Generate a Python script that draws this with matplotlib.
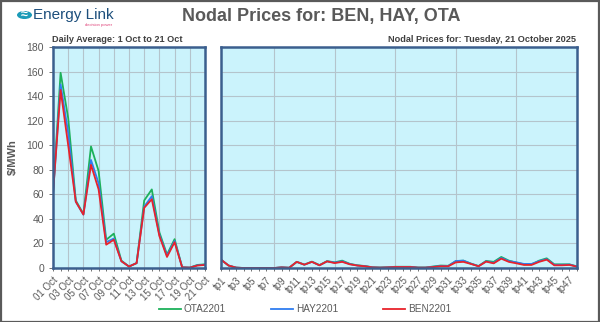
import matplotlib
matplotlib.use("Agg")
import matplotlib.pyplot as plt
from matplotlib.patches import Rectangle, Circle
import numpy as np

plt.rcParams['font.family'] = ['Liberation Sans', 'DejaVu Sans']

# daily averages 1 Oct .. 21 Oct
days = ["%02d Oct" % d for d in range(1, 22)]
ota_daily = [60, 159, 122, 55, 44, 99, 79, 23, 28, 6, 1.2, 4, 55, 64, 29, 11, 23.5, 0.5, 0.3, 2.5, 3]
hay_daily = [60, 149.5, 110, 54, 43.5, 88, 69, 21, 24, 5.5, 1.2, 4, 50, 58.5, 27, 10, 22, 0.5, 0.3, 2.2, 2.7]
ben_daily = [60.6, 145, 100, 54, 43.5, 84, 64, 19, 23, 5.5, 1.2, 4, 49, 56, 26, 9, 21, 0.5, 0.3, 2, 2.5]

# trading periods for 21 Oct
tps = ["tp%d" % i for i in range(1, 49)]
ota_tp = [6.8, 2, 0.3, 0, 0, 0, 0, 0, 0.5, 0.2, 5, 2.8, 5.2, 2.4, 5.6, 4.6, 6, 3.4, 2.2, 1.6,
          0.6, 0.4, 0.6, 1, 1, 1, 0.4, 0.4, 1.2, 2, 1.8, 5.6, 6, 3.6, 1.6, 5.8, 5, 9, 6, 4.4,
          3, 3, 6, 7.9, 3, 3, 3, 1.3]
hay_tp = [6.8, 2, 0.3, 0, 0, 0, 0, 0, 0.5, 0.2, 5, 2.7, 5, 2.2, 5.4, 4.4, 5.4, 3.2, 2, 1.5,
          0.5, 0.3, 0.5, 0.9, 0.9, 0.9, 0.3, 0.3, 1, 1.6, 1.6, 5.7, 6, 3.5, 1.5, 5.4, 4.2, 8.2, 5.6, 4.6,
          3.3, 3.3, 5.6, 7.2, 2.6, 2.6, 2.8, 1.2]
ben_tp = [6.8, 2, 0.3, 0, 0, 0, 0, 0, 0.5, 0.2, 5, 2.7, 5, 2.2, 5.4, 4, 5, 3, 2, 1.4,
          0.5, 0.3, 0.5, 0.8, 0.8, 0.8, 0.3, 0.3, 0.8, 1.4, 1.4, 4.6, 5, 3.3, 1.4, 5.2, 3.8, 7.6, 5, 3.8,
          2.5, 2.5, 5, 6.8, 2.2, 2.2, 2.5, 1.1]

names = ["OTA2201", "HAY2201", "BEN2201"]
colors = ["#1DB15A", "#2F7DF0", "#E8232B"]

W, H = 600, 322
fig = plt.figure(figsize=(6, 3.22), dpi=100)
fig.patch.set_facecolor("white")
fig.patches.append(Rectangle((0.5 / W, 0.5 / H), 1 - 1.5 / W, 1 - 1.5 / H, transform=fig.transFigure,
                             fill=False, edgecolor="#5a5a5a", linewidth=1.6))

bottom = 1 - 268 / H
height = 221 / H
ax1 = fig.add_axes([53 / W, bottom, 152 / W, height])
ax2 = fig.add_axes([221 / W, bottom, 356 / W, height])

grey = "#595959"
for ax in (ax1, ax2):
    ax.set_facecolor("#CBF3FC")
    ax.set_ylim(0, 180)
    ax.set_yticks(np.arange(0, 181, 20))
    ax.grid(True, axis="y", color="#b4c4cc", linewidth=0.8)
    for s in ax.spines.values():
        s.set_color("#3B5F8E")
        s.set_linewidth(1.8)
    ax.tick_params(axis="y", colors=grey, labelsize=7.5, length=3, width=0.6)
    ax.tick_params(axis="x", colors=grey, labelsize=7, length=2.5, width=0.6, pad=2.5)

x1 = np.arange(len(days))
for vals, c in zip([ota_daily, hay_daily, ben_daily], colors):
    ax1.plot(x1, vals, color=c, linewidth=1.3)
ax1.set_xlim(0, len(days) - 1)
ax1.set_xticks(x1, minor=True)
ax1.set_xticks(x1[::2])
ax1.set_xticklabels(days[::2], rotation=45, ha="right", rotation_mode="anchor")
ax1.grid(True, axis="x", color="#b4c4cc", linewidth=0.8)
ax1.tick_params(axis="x", which="minor", length=2.5, colors=grey)
ax1.set_ylabel("$/MWh", color=grey, fontsize=8, fontweight="bold", labelpad=6)

x2 = np.arange(len(tps))
lines = []
for vals, c, n in zip([ota_tp, hay_tp, ben_tp], colors, names):
    ln, = ax2.plot(x2, vals, color=c, linewidth=1.3, label=n)
    lines.append(ln)
ax2.set_xlim(0, len(tps) - 1)
ax2.set_xticks(x2[::2])
ax2.set_xticklabels(tps[::2], rotation=45, ha="right", rotation_mode="anchor")
ax2.set_xticks(x2, minor=True)
ax2.tick_params(axis="x", which="minor", length=2.5, colors=grey)
ax2.set_yticklabels([])
ax2.tick_params(axis="y", length=0)
for gx in [7, 15, 23, 31, 39]:
    ax2.axvline(gx, color="#b4c4cc", linewidth=0.8, zorder=0.5)

# titles
fig.text(321 / W, 1 - 17 / H, "Nodal Prices for: BEN, HAY, OTA", ha="center", va="center",
         fontsize=13, fontweight="bold", color=grey)
fig.text(52 / W, 1 - 40 / H, "Daily Average: 1 Oct to 21 Oct", ha="left", va="center",
         fontsize=6.6, fontweight="bold", color="#404040")
fig.text(576 / W, 1 - 40 / H, "Nodal Prices for: Tuesday, 21 October 2025", ha="right", va="center",
         fontsize=6.6, fontweight="bold", color="#404040")

# logo
logo = Circle((24.5 / W, 1 - 15 / H), 7.5 / W, transform=fig.transFigure, facecolor="#1B9BB8",
              edgecolor="none")
fig.patches.append(logo)
fig.text(24.5 / W, 1 - 15 / H, "≈", ha="center", va="center", fontsize=9, color="white", fontweight="bold")
fig.text(33 / W, 1 - 15 / H, "Energy Link", ha="left", va="center", fontsize=11, color="#1D4F7C")
fig.text(85 / W, 1 - 25 / H, "decision power", ha="left", va="center", fontsize=3, color="#E0457B")

fig.legend(lines, names, loc="center", bbox_to_anchor=(305 / W, 1 - 309 / H), ncol=3, frameon=False,
           fontsize=7.2, labelcolor=grey, handlelength=2.2, columnspacing=4.5, handletextpad=0.3)

fig.savefig("out.png", dpi=100)
